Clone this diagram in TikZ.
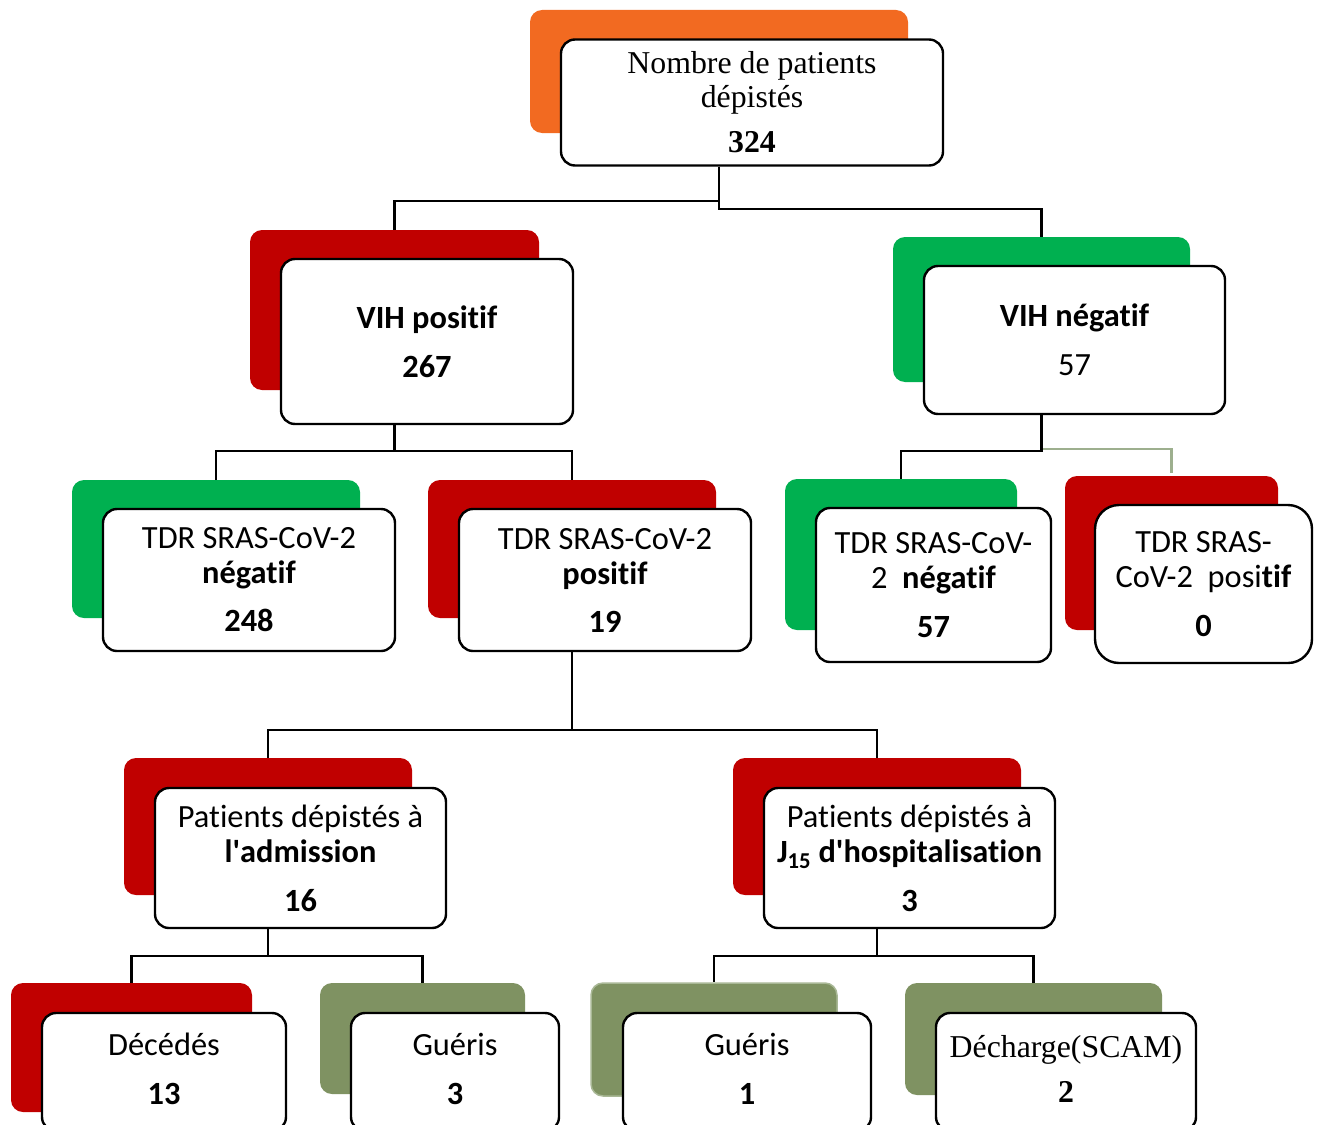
\documentclass[tikz,border=0pt]{standalone}
\usepackage{fontspec}
\setmainfont{Liberation Serif}
\setsansfont{Carlito}[Ligatures={NoCommon}]
\definecolor{cOrange}{HTML}{F26A21}
\definecolor{cRed}{HTML}{C00000}
\definecolor{cGreen}{HTML}{00B050}
\definecolor{cOlive}{HTML}{7F9262}
\definecolor{cOliveEdge}{HTML}{A9B896}
\definecolor{cGrayLine}{HTML}{9DAF8E}
\tikzset{
  backbox/.style={rectangle, rounded corners=12pt, inner sep=0pt, draw=none},
  frontbox/.style={rectangle, rounded corners=14pt, draw=black, line width=2.4pt, fill=white,
     inner sep=0pt, align=center, font=\sffamily\fontsize{32.4}{35}\selectfont},
  serifbox/.style={frontbox, font=\rmfamily\fontsize{31.8}{34}\selectfont},
  lowbox/.style={minimum height=118pt, text depth=6pt},
  conn/.style={draw=black, line width=2.4pt},
  connlight/.style={draw=cGrayLine, line width=2.4pt}
}
\begin{document}
\begin{tikzpicture}[x=1pt,y=-1pt]
\clip (0,0) rectangle (1321,1124);
\fill[white] (0,0) rectangle (1321,1124);

% back boxes
\node[backbox, fill=cOrange, minimum width=378pt, minimum height=123pt] (rootB) at (719,71.5) {};
\node[backbox, fill=cRed,    minimum width=289pt, minimum height=160pt] (vihpB) at (394.5,310) {};
\node[backbox, fill=cGreen,  minimum width=297pt, minimum height=145pt] (vihnB) at (1041.5,309.5) {};
\node[backbox, fill=cGreen,  minimum width=288pt, minimum height=138pt] (tdrnB) at (216,549) {};
\node[backbox, fill=cRed,    minimum width=288pt, minimum height=138pt] (tdrpB) at (572,549) {};
\node[backbox, fill=cGreen,  minimum width=232pt, minimum height=151pt] (rtnB) at (901,554.5) {};
\node[backbox, fill=cRed,    minimum width=213pt, minimum height=154pt] (rtpB) at (1171.5,553) {};
\node[backbox, fill=cRed,    minimum width=288pt, minimum height=137pt] (admB) at (268,826.5) {};
\node[backbox, fill=cRed,    minimum width=288pt, minimum height=137pt] (jB) at (877,826.5) {};
\node[backbox, fill=cRed,    minimum width=241pt, minimum height=129pt] (decB) at (131.5,1047.5) {};
\node[backbox, fill=cOlive,  minimum width=205pt, minimum height=111pt] (gu3B) at (422.5,1038.5) {};
\node[backbox, fill=cOlive,  draw=cOliveEdge, line width=1.5pt, minimum width=246pt, minimum height=113pt] (gu1B) at (714,1039.5) {};
\node[backbox, fill=cOlive,  minimum width=257pt, minimum height=112pt] (dchB) at (1033.5,1039) {};

% front boxes
\node[serifbox, minimum width=382pt, minimum height=126pt] (root) at (752,102.5)
  {Nombre de patients\\dépistés\\[11pt]\textbf{324}};
\node[frontbox, minimum width=292pt, minimum height=165pt] (vihp) at (427,341.5)
  {\textbf{VIH positif}\\[14pt]\textbf{267}};
\node[frontbox, minimum width=301pt, minimum height=148pt] (vihn) at (1074.5,340)
  {\textbf{VIH négatif}\\[14pt]57};
\node[frontbox, minimum width=292pt, minimum height=142pt] (tdrn) at (249,580)
  {TDR SRAS-CoV-2\\\textbf{négatif}\\[13pt]\textbf{248}};
\node[frontbox, minimum width=292pt, minimum height=142pt] (tdrp) at (605,580)
  {TDR SRAS-CoV-2\\\textbf{positif}\\[13pt]\textbf{19}};
\node[frontbox, minimum width=235pt, minimum height=154pt] (rtn) at (933.5,585)
  {TDR SRAS-CoV-\\2~~\textbf{négatif}\\[14pt]\textbf{57}};
\node[frontbox, rounded corners=24pt, minimum width=217pt, minimum height=158pt] (rtp) at (1203.5,584)
  {TDR SRAS-\\CoV-2~~posi\textbf{tif}\\[14pt]\textbf{0}};
\node[frontbox, minimum width=291pt, minimum height=140pt] (adm) at (300.5,858)
  {Patients dépistés à\\\textbf{l\textquotesingle admission}\\[14pt]\textbf{16}};
\node[frontbox, minimum width=291pt, minimum height=140pt] (jh) at (909.5,858)
  {Patients dépistés à\\\textbf{J\textsubscript{15} d\textquotesingle hospitalisation}\\[14pt]\textbf{3}};
\node[frontbox, lowbox, minimum width=244pt] (dec) at (164,1072)
  {Décédés\\[14pt]\textbf{13}};
\node[frontbox, lowbox, minimum width=208pt] (gu3) at (455,1072)
  {Guéris\\[14pt]\textbf{3}};
\node[frontbox, lowbox, minimum width=248pt] (gu1) at (747,1072)
  {Guéris\\[14pt]\textbf{1}};
\node[serifbox, lowbox, minimum width=260pt] (dch) at (1066,1072)
  {Décharge(SCAM)\\[11pt]\textbf{2}};

% connectors
\draw[conn] (rootB.south |- root.south) -- ++(0,34) -| (vihpB.north);
\draw[conn] (rootB.south |- root.south) -- ++(0,42) -| (vihnB.north);
\draw[conn] (vihpB.south |- vihp.south) -- ++(0,26) -| (tdrnB.north);
\draw[conn] (vihpB.south |- vihp.south) -- ++(0,26) -| (tdrpB.north);
\draw[connlight] (vihnB.south |- vihn.south) -- ++(0,34) -| ([yshift=3pt]rtpB.north);
\draw[conn] (vihnB.south |- vihn.south) -- ++(0,36) -| (rtnB.north);
\draw[conn] (tdrpB.south |- tdrp.south) -- ++(0,78) -| (admB.north);
\draw[conn] (tdrpB.south |- tdrp.south) -- ++(0,78) -| (jB.north);
\draw[conn] (admB.south |- adm.south) -- ++(0,27) -| (decB.north);
\draw[conn] (admB.south |- adm.south) -- ++(0,27) -| (gu3B.north);
\draw[conn] (jB.south |- jh.south) -- ++(0,27) -| (gu1B.north);
\draw[conn] (jB.south |- jh.south) -- ++(0,27) -| (dchB.north);
\end{tikzpicture}
\end{document}
